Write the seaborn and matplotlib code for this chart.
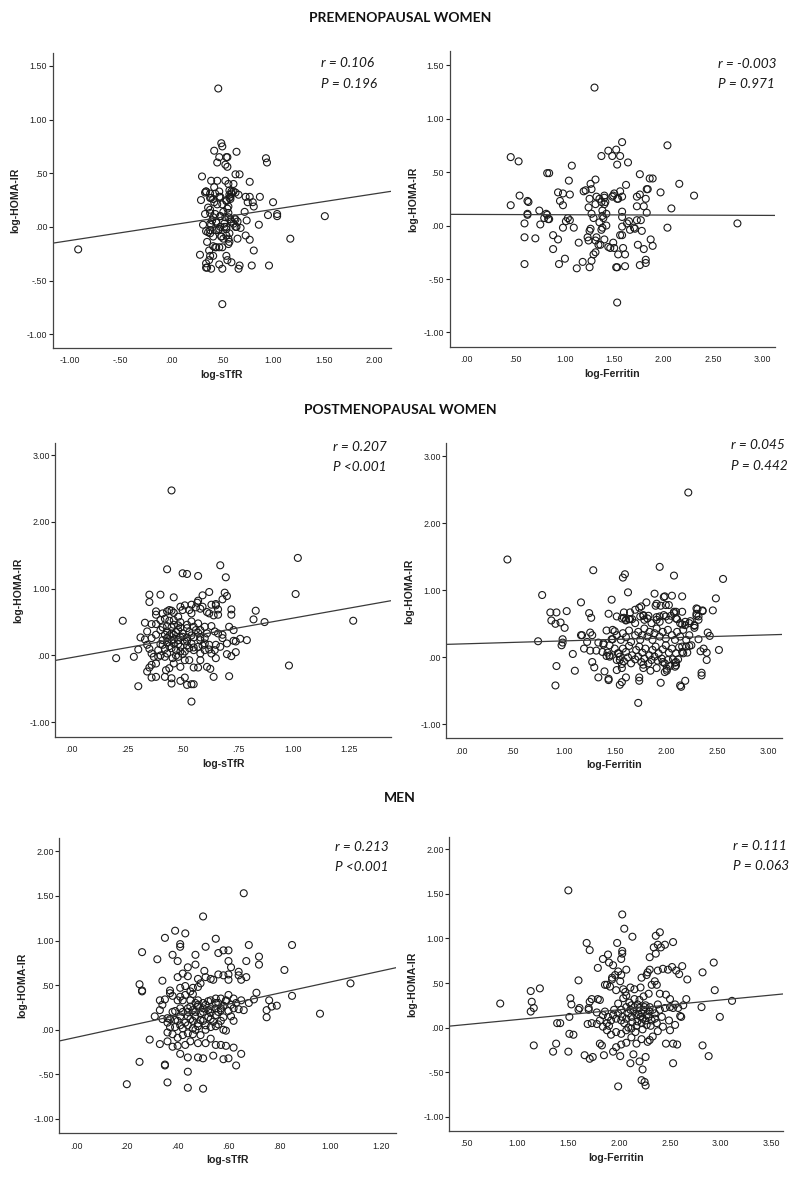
import pandas as pd
import matplotlib
matplotlib.use("Agg")
import matplotlib.pyplot as plt
import matplotlib.ticker as mticker
import seaborn as sns

# ---- data: (x, log-HOMA-IR) pairs per panel ----
pre_stfr = [(-0.92,-0.21),(0.46,1.29),(0.50,-0.72),(1.51,0.10),(1.17,-0.11),(0.96,-0.36),(0.93,0.64),(0.94,0.60),
    (1.00,0.23),(1.04,0.12),(1.04,0.10),(0.95,0.11),(0.87,0.28),(0.86,0.02),(0.81,-0.22),(0.79,-0.36),(0.77,-0.12),
    (0.73,-0.08),(0.74,0.06),(0.72,0.14),(0.81,0.19),(0.80,0.23),(0.75,0.23),(0.77,0.42),(0.73,0.28),(0.77,0.28),
    (0.64,0.70),(0.63,0.49),(0.67,0.49),(0.66,0.30),(0.61,0.33),(0.63,0.32),(0.56,0.40),(0.61,0.40),(0.54,0.65),
    (0.55,0.65),(0.47,0.65),(0.53,0.58),(0.55,0.56),(0.45,0.60),(0.42,0.71),(0.49,0.78),(0.50,0.75),(0.30,0.47),
    (0.39,0.43),(0.45,0.43),(0.53,0.43),(0.42,0.37),(0.33,0.32),(0.34,0.33),(0.38,0.31),(0.29,0.25),(0.38,0.27),
    (0.41,0.26),(0.47,0.33),(0.47,0.28),(0.42,0.23),(0.45,0.21),(0.50,0.21),(0.54,0.24),(0.57,0.27),(0.58,0.28),
    (0.58,0.26),(0.59,0.31),(0.57,0.34),(0.56,0.19),(0.55,0.17),(0.36,0.18),(0.38,0.13),(0.33,0.12),(0.43,0.12),
    (0.48,0.10),(0.53,0.09),(0.56,0.13),(0.58,0.07),(0.63,0.07),(0.65,0.05),(0.61,0.03),(0.63,0.00),(0.68,-0.01),
    (0.31,0.02),(0.38,0.03),(0.40,0.06),(0.44,0.04),(0.48,0.00),(0.47,-0.02),(0.54,-0.02),(0.52,0.03),(0.34,-0.04),
    (0.36,-0.05),(0.38,-0.06),(0.44,-0.03),(0.41,-0.09),(0.49,-0.09),(0.51,-0.11),(0.54,-0.08),(0.56,-0.11),
    (0.65,-0.11),(0.35,-0.14),(0.41,-0.18),(0.44,-0.19),(0.47,-0.19),(0.50,-0.19),(0.56,-0.16),(0.57,-0.14),
    (0.37,-0.22),(0.38,-0.27),(0.41,-0.27),(0.28,-0.26),(0.37,-0.31),(0.34,-0.34),(0.35,-0.38),(0.39,-0.39),
    (0.34,-0.38),(0.47,-0.35),(0.50,-0.39),(0.54,-0.27),(0.55,-0.31),(0.59,-0.33),(0.66,-0.39),(0.67,-0.36),
    (0.34,0.33),(0.39,0.27),(0.43,0.31),(0.48,0.28),(0.54,0.25),(0.57,0.30),(0.59,0.33),(0.38,0.16),(0.41,0.09),
    (0.44,0.05),(0.39,0.02),(0.48,0.10),(0.51,0.14),(0.56,0.09),(0.59,0.05),(0.62,0.08),(0.52,0.00),(0.46,-0.03),
    (0.49,-0.09),(0.54,0.00),(0.57,-0.06),(0.38,-0.03),(0.64,0.00),(0.43,-0.19)]

pre_ferr = [(1.30,1.29),(1.53,-0.72),(2.75,0.02),(2.04,0.75),(2.31,0.28),(2.16,0.39),(2.08,0.16),(2.04,-0.02),
    (1.97,0.31),(1.86,0.44),(1.89,0.44),(1.83,0.34),(1.84,0.34),(1.82,0.25),(1.83,0.12),(1.80,0.18),(1.76,0.48),
    (1.76,0.29),(1.73,0.27),(1.73,0.18),(1.73,0.05),(1.77,0.05),(1.71,-0.03),(1.70,-0.02),(1.78,-0.05),(1.66,-0.04),
    (1.65,0.04),(1.63,0.02),(1.74,-0.18),(1.80,-0.22),(1.87,-0.13),(1.89,-0.19),(1.82,-0.32),(1.82,-0.35),
    (1.76,-0.37),(1.64,0.59),(1.58,0.78),(1.52,0.71),(1.56,0.65),(1.48,0.65),(1.44,0.70),(1.37,0.65),(1.53,0.57),
    (1.62,0.38),(1.56,0.32),(1.50,0.30),(1.49,0.28),(1.58,0.27),(1.53,0.25),(1.54,0.25),(1.48,0.27),(1.40,0.28),
    (1.40,0.26),(1.35,0.25),(1.37,0.22),(1.41,0.22),(1.40,0.20),(1.31,0.43),(1.26,0.39),(1.27,0.34),(1.19,0.32),
    (1.21,0.33),(1.25,0.25),(1.32,0.27),(1.31,0.20),(1.24,0.17),(1.27,0.11),(1.29,0.07),(1.38,0.14),(1.42,0.11),
    (1.38,0.09),(1.58,0.13),(1.58,0.08),(1.39,0.07),(1.35,0.03),(1.42,0.00),(1.37,-0.04),(1.38,-0.02),(1.58,-0.01),
    (1.26,-0.03),(1.25,-0.05),(1.23,-0.11),(1.24,-0.14),(1.32,-0.11),(1.31,-0.14),(1.40,-0.13),(1.34,-0.18),
    (1.36,-0.18),(1.44,-0.20),(1.46,-0.21),(1.50,-0.21),(1.49,-0.16),(1.56,-0.09),(1.58,-0.09),(1.59,-0.21),
    (1.54,-0.27),(1.61,-0.27),(1.31,-0.25),(1.29,-0.27),(1.27,-0.33),(1.25,-0.39),(1.18,-0.34),(1.12,-0.40),
    (1.52,-0.39),(1.53,-0.39),(1.61,-0.38),(1.14,-0.16),(1.09,-0.02),(1.00,-0.31),(0.94,-0.36),(0.98,-0.02),
    (1.01,0.04),(1.05,0.05),(1.03,0.07),(0.93,-0.13),(0.88,-0.09),(0.88,-0.22),(0.98,0.19),(0.95,0.23),(0.93,0.31),
    (0.98,0.30),(1.05,0.29),(1.04,0.42),(1.07,0.56),(0.82,0.49),(0.84,0.49),(0.81,0.11),(0.82,0.10),(0.79,0.07),
    (0.83,0.06),(0.84,0.06),(0.74,0.14),(0.75,0.01),(0.70,-0.12),(0.59,-0.11),(0.59,0.02),(0.62,0.11),(0.62,0.10),
    (0.62,0.23),(0.63,0.22),(0.54,0.28),(0.45,0.19),(0.45,0.64),(0.53,0.60),(0.59,-0.36)]

post_stfr = [(0.45,2.47),(1.27,0.52),(1.02,1.46),(0.67,1.35),(0.43,1.29),(0.50,1.23),(0.52,1.22),(0.57,1.19),
    (0.695,1.17),(1.01,0.92),(0.35,0.91),(0.40,0.91),(0.35,0.80),(0.46,0.87),(0.62,0.95),(0.69,0.94),(0.70,0.89),
    (0.59,0.90),(0.57,0.82),(0.566,0.79),(0.54,0.76),(0.68,0.84),(0.63,0.76),(0.65,0.77),(0.66,0.69),(0.72,0.69),
    (0.72,0.61),(0.83,0.67),(0.82,0.54),(0.87,0.50),(0.23,0.52),(0.38,0.66),(0.38,0.61),(0.41,0.63),(0.43,0.66),
    (0.44,0.68),(0.45,0.67),(0.46,0.64),(0.49,0.73),(0.50,0.68),(0.51,0.75),(0.53,0.68),(0.54,0.63),(0.56,0.72),
    (0.58,0.70),(0.59,0.73),(0.61,0.65),(0.62,0.63),(0.64,0.60),(0.66,0.61),(0.65,0.75),(0.48,0.58),(0.49,0.50),
    (0.46,0.53),(0.44,0.52),(0.42,0.55),(0.40,0.53),(0.38,0.47),(0.36,0.47),(0.33,0.49),(0.34,0.36),(0.31,0.27),
    (0.33,0.24),(0.34,0.16),(0.30,0.09),(0.28,-0.02),(0.20,-0.04),(0.35,0.10),(0.36,0.03),(0.37,-0.02),(0.39,0.08),
    (0.40,0.17),(0.41,0.23),(0.42,0.31),(0.43,0.36),(0.45,0.42),(0.46,0.31),(0.48,0.38),(0.49,0.27),(0.50,0.33),
    (0.52,0.41),(0.52,0.46),(0.54,0.51),(0.55,0.43),(0.57,0.48),(0.58,0.38),(0.60,0.43),(0.61,0.33),(0.63,0.44),
    (0.645,0.36),(0.66,0.33),(0.68,0.31),(0.70,0.18),(0.71,0.43),(0.73,0.38),(0.73,0.22),(0.74,0.21),(0.76,0.25),
    (0.79,0.23),(0.74,0.05),(0.72,-0.01),(0.70,0.02),(0.65,-0.04),(0.62,0.09),(0.62,0.16),(0.60,0.08),(0.58,0.03),
    (0.57,0.13),(0.55,0.08),(0.54,0.18),(0.53,0.11),(0.51,0.06),(0.49,0.13),(0.48,0.23),(0.46,0.18),(0.45,0.11),
    (0.43,0.03),(0.42,-0.02),(0.41,0.16),(0.39,-0.02),(0.38,-0.12),(0.36,-0.14),(0.35,-0.18),(0.34,-0.24),
    (0.36,-0.33),(0.38,-0.32),(0.42,-0.32),(0.425,-0.22),(0.44,-0.19),(0.45,-0.42),(0.46,-0.12),(0.49,-0.17),
    (0.49,-0.38),(0.51,-0.33),(0.52,-0.44),(0.54,-0.43),(0.55,-0.43),(0.55,-0.18),(0.57,-0.18),(0.58,-0.07),
    (0.61,-0.17),(0.625,-0.20),(0.64,-0.32),(0.71,-0.31),(0.45,-0.34),(0.30,-0.46),(0.54,-0.69),(0.98,-0.15),
    (0.51,-0.07),(0.53,-0.07),(0.48,-0.02),(0.455,-0.04),(0.58,0.23),(0.60,0.26),(0.65,0.16),(0.67,0.13),
    (0.68,0.26),(0.43,0.26),(0.45,0.23),(0.47,0.08),(0.49,0.06),(0.51,0.21),(0.52,0.27),(0.54,0.30),(0.55,0.27),
    (0.57,0.34),(0.58,0.27),(0.60,0.18),(0.63,0.03),(0.645,0.08),(0.36,0.26),(0.38,0.31),(0.40,0.38),(0.41,0.42),
    (0.43,0.44),(0.45,0.33),(0.46,0.46),(0.49,0.42),
    (0.44,0.14),(0.46,0.24),(0.47,0.35),(0.48,0.17),(0.50,0.02),(0.50,0.28),(0.52,0.15),(0.53,0.35),(0.44,0.30),
    (0.42,0.10),(0.40,0.00),(0.48,0.45),(0.52,0.22),(0.55,0.12),(0.56,0.38),(0.47,0.00),(0.43,0.20),(0.59,0.15)]

post_ferr = [(2.22,2.46),(0.45,1.46),(0.79,0.93),(0.75,0.24),(1.29,1.30),(1.17,0.82),(1.58,1.19),(1.60,1.24),
    (1.63,0.97),(1.47,0.86),(1.94,1.35),(2.08,1.22),(2.56,1.17),(2.49,0.88),(2.46,0.70),(2.16,0.91),(2.06,0.92),
    (1.98,0.90),(1.99,0.91),(1.89,0.95),(2.52,0.11),(2.40,-0.04),(2.35,-0.23),(2.35,-0.27),(2.19,-0.35),
    (2.14,-0.42),(2.15,-0.44),(1.95,-0.38),(1.73,-0.68),(1.74,-0.30),(1.74,-0.35),(1.61,-0.30),(1.57,-0.37),
    (1.55,-0.41),(1.44,-0.32),(1.44,-0.34),(1.34,-0.30),(1.40,-0.21),(1.52,-0.19),(1.30,-0.15),(1.28,-0.07),
    (1.11,-0.20),(1.09,0.05),(0.93,-0.13),(0.92,-0.42),(0.99,0.27),(0.99,0.22),(0.98,0.18),(1.01,0.44),(0.97,0.52),
    (0.92,0.50),(0.88,0.55),(0.87,0.67),(0.93,0.67),(1.03,0.69),(1.18,0.33),(1.20,0.13),(1.25,0.66),(1.27,0.59),
    (1.26,0.37),(1.28,0.33),(1.23,0.23),(1.26,0.10),(1.32,0.10),(1.34,0.22),(1.39,0.19),(1.38,0.08),(1.44,0.65),
    (1.42,0.40),(1.48,0.41),(1.50,0.39),(1.47,0.27),(1.45,0.03),(1.45,0.01),(1.43,0.07),(1.42,0.02),(1.53,0.06),
    (1.55,-0.04),(1.57,-0.10),(1.57,-0.16),(1.59,0.67),(1.59,0.59),(1.61,0.56),(1.64,0.57),(1.67,0.57),(1.65,0.67),
    (1.70,0.71),(1.74,0.74),(1.76,0.76),(1.78,0.62),(1.79,0.56),(1.81,0.82),(1.83,0.62),(1.91,0.80),(1.90,0.77),
    (1.95,0.77),(2.00,0.78),(2.03,0.78),(1.91,0.60),(1.94,0.53),(2.00,0.61),(2.08,0.68),(2.10,0.68),(2.16,0.68),
    (2.05,0.62),(2.11,0.57),(2.16,0.49),(2.19,0.48),(2.28,0.47),(2.28,0.44),(2.24,0.54),(2.31,0.72),(2.30,0.65),
    (2.30,0.62),(2.36,0.69),(2.32,0.56),(2.41,0.37),(2.43,0.32),(2.32,0.27),(2.37,0.13),(2.34,0.09),(2.40,0.07),
    (2.23,0.17),(2.21,0.07),(2.17,0.06),(2.16,0.16),(2.12,-0.03),(2.09,-0.08),(2.10,-0.12),(2.01,-0.17),
    (2.01,-0.20),(1.99,-0.22),(1.91,-0.16),(1.85,-0.20),(1.78,-0.16),(1.78,-0.11),(1.97,-0.07),(2.04,-0.13),
    (2.09,-0.14),(1.39,0.21),(1.17,0.33),
    (1.48,0.27),(1.52,0.33),(1.56,0.26),(1.58,0.36),(1.61,0.30),(1.64,0.40),(1.66,0.23),(1.70,0.33),(1.73,0.38),
    (1.75,0.26),(1.77,0.33),(1.79,0.43),(1.82,0.31),(1.84,0.38),(1.87,0.26),(1.89,0.36),(1.91,0.43),(1.94,0.31),
    (1.97,0.38),(2.00,0.28),(2.02,0.41),(2.06,0.33),(2.09,0.26),(2.11,0.38),(2.14,0.31),(2.17,0.41),(2.20,0.26),
    (2.23,0.33),(1.45,0.18),(1.50,0.13),(1.54,0.06),(1.58,0.13),(1.61,0.08),(1.64,0.17),(1.67,0.03),(1.71,0.11),
    (1.74,0.16),(1.77,0.07),(1.80,0.13),(1.84,0.03),(1.87,0.11),(1.90,0.16),(1.93,0.06),(1.97,0.12),(2.00,0.18),
    (2.03,0.07),(2.06,0.13),(2.10,0.06),(2.13,0.15),(2.16,0.08),(2.20,0.16),(2.25,0.18),(1.52,-0.04),(1.55,0.01),
    (1.59,-0.06),(1.63,0.00),(1.66,-0.09),(1.70,-0.03),(1.73,0.01),(1.76,-0.07),(1.79,-0.02),(1.83,-0.09),
    (1.86,-0.04),(1.89,0.01),(1.92,-0.05),(1.96,-0.02),(1.99,-0.09),(2.02,-0.04),(2.07,-0.03),(2.10,-0.07),
    (1.52,0.61),(1.57,0.58),(1.61,0.55),(1.65,0.57),(1.70,0.51),(1.75,0.61),(1.78,0.63),(1.82,0.58),(1.86,0.51),
    (1.91,0.56),(1.94,0.61),(1.98,0.63),(2.03,0.56),(2.08,0.66),(2.10,0.58),(2.14,0.51),(2.19,0.53),(2.23,0.51),
    (2.28,0.48),(2.32,0.61),(2.36,0.70),(2.30,0.73)]

men_stfr = [(0.66,1.53),(1.08,0.52),(0.50,1.27),(0.35,1.03),(0.39,1.11),(0.43,1.08),(0.55,1.02),(0.41,0.96),
    (0.41,0.93),(0.51,0.93),(0.26,0.87),(0.38,0.84),(0.32,0.79),(0.40,0.77),(0.47,0.84),(0.56,0.86),(0.58,0.89),
    (0.60,0.89),(0.68,0.95),(0.85,0.95),(0.72,0.82),(0.72,0.73),(0.67,0.77),(0.82,0.67),(0.47,0.73),(0.60,0.77),
    (0.61,0.70),(0.505,0.66),(0.44,0.70),(0.42,0.63),(0.44,0.60),(0.40,0.59),(0.34,0.55),(0.25,0.51),(0.26,0.44),
    (0.26,0.43),(0.48,0.57),(0.51,0.59),(0.53,0.57),(0.54,0.56),(0.56,0.62),(0.58,0.61),(0.60,0.62),(0.60,0.56),
    (0.64,0.65),(0.64,0.61),(0.67,0.59),(0.65,0.56),(0.49,0.52),(0.48,0.48),(0.46,0.47),(0.43,0.49),(0.41,0.47),
    (0.37,0.44),(0.37,0.41),(0.38,0.38),(0.41,0.37),(0.43,0.39),(0.45,0.43),(0.46,0.40),(0.48,0.33),(0.45,0.33),
    (0.42,0.33),(0.40,0.33),(0.35,0.34),(0.33,0.33),(0.34,0.28),(0.33,0.22),(0.31,0.15),(0.34,0.12),(0.36,0.13),
    (0.37,0.12),(0.39,0.21),(0.41,0.24),(0.44,0.20),(0.46,0.22),(0.48,0.26),(0.50,0.24),(0.51,0.28),(0.53,0.33),
    (0.55,0.35),(0.56,0.30),(0.57,0.24),(0.59,0.33),(0.60,0.39),(0.62,0.35),(0.65,0.33),(0.68,0.30),(0.70,0.34),
    (0.71,0.415),(0.76,0.33),(0.77,0.26),(0.79,0.27),(0.85,0.38),(0.75,0.22),(0.75,0.14),(0.66,0.22),(0.64,0.23),
    (0.62,0.24),(0.61,0.15),(0.58,0.14),(0.55,0.165),(0.53,0.19),(0.52,0.14),(0.49,0.11),(0.48,0.07),(0.46,0.10),
    (0.44,0.05),(0.42,0.015),(0.41,0.05),(0.39,0.03),(0.37,0.03),(0.36,-0.03),(0.38,-0.05),(0.40,-0.09),
    (0.42,-0.06),(0.44,-0.04),(0.46,0.015),(0.47,0.00),(0.49,-0.06),(0.51,0.00),(0.53,0.03),(0.55,0.04),(0.58,0.00),
    (0.59,-0.01),(0.29,-0.11),(0.33,-0.16),(0.36,-0.13),(0.38,-0.19),(0.40,-0.18),(0.43,-0.17),(0.45,-0.13),
    (0.48,-0.15),(0.51,-0.15),(0.53,-0.10),(0.55,-0.17),(0.57,-0.17),(0.59,-0.18),(0.62,-0.20),(0.65,-0.27),
    (0.41,-0.27),(0.44,-0.31),(0.48,-0.31),(0.50,-0.32),(0.54,-0.29),(0.58,-0.33),(0.60,-0.32),(0.63,-0.40),
    (0.25,-0.36),(0.35,-0.39),(0.35,-0.40),(0.44,-0.47),(0.20,-0.61),(0.36,-0.59),(0.44,-0.65),(0.50,-0.66),
    (0.96,0.18),(0.53,0.23),(0.47,0.15),(0.44,0.15),(0.41,0.15),(0.39,0.11),(0.50,0.20),(0.55,0.24),(0.57,0.22),
    (0.47,0.20),(0.48,0.28),
    (0.42,0.20),(0.45,0.26),(0.47,0.30),(0.49,0.18),(0.50,0.10),(0.52,0.22),(0.53,0.12),(0.55,0.30),(0.56,0.20),
    (0.57,0.10),(0.58,0.27),(0.60,0.21),(0.61,0.28),(0.62,0.10),(0.63,0.30),(0.40,0.10),(0.43,0.08),(0.45,0.12),
    (0.46,-0.05),(0.48,0.04),(0.50,0.30),(0.51,0.05),(0.54,0.09),(0.56,0.06),(0.59,0.32),(0.38,0.20),(0.36,0.08),
    (0.44,0.24),(0.52,0.32),(0.57,0.35)]

men_ferr = [(1.50,1.54),(0.83,0.27),(1.13,0.41),(1.14,0.29),(1.13,0.18),(1.16,0.22),(1.22,0.44),(1.16,-0.20),
    (1.38,-0.18),(1.35,-0.27),(1.39,0.05),(2.03,1.27),(2.05,1.11),(2.13,1.02),(1.68,0.95),(1.71,0.87),(1.98,0.95),
    (2.03,0.86),(2.03,0.83),(2.02,0.77),(1.84,0.77),(1.79,0.67),(1.90,0.73),(1.94,0.70),(1.99,0.63),(2.07,0.65),
    (1.89,0.82),(1.60,0.53),(1.52,0.33),(1.53,0.26),(1.61,0.22),(1.71,0.29),(1.73,0.32),(1.70,0.20),(1.79,0.32),
    (1.81,0.31),(1.86,0.48),(1.88,0.48),(1.91,0.46),(1.93,0.56),(1.93,0.54),(1.96,0.59),(2.01,0.52),(2.02,0.59),
    (1.97,0.42),(2.04,0.43),(2.04,0.33),(2.07,0.36),(2.11,0.45),(2.15,0.43),(2.21,0.45),(2.22,0.56),(2.27,0.59),
    (2.28,0.62),(2.30,0.65),(2.30,0.79),(2.36,0.83),(2.38,0.93),(2.40,1.07),(2.36,1.03),(2.41,0.90),(2.45,0.93),
    (2.53,0.96),(2.34,0.90),(2.38,0.64),(2.43,0.66),(2.48,0.65),(2.52,0.68),(2.56,0.64),(2.59,0.60),(2.62,0.69),
    (2.67,0.54),(2.82,0.62),(2.93,0.73),(2.94,0.42),(3.11,0.30),(2.99,0.12),(2.81,0.23),(2.66,0.32),(2.63,0.25),
    (2.58,0.22),(2.55,0.26),(2.50,0.32),(2.46,0.37),(2.40,0.38),(2.37,0.48),(2.35,0.52),(2.32,0.48),(2.29,0.38),
    (2.24,0.35),(2.20,0.31),(2.15,0.32),(2.12,0.25),(2.07,0.23),(2.02,0.20),(1.99,0.16),(1.94,0.14),(1.89,0.12),
    (1.84,0.14),(1.81,0.08),(1.78,0.04),(1.73,0.05),(1.69,0.04),(1.51,0.12),(1.42,0.05),(1.51,-0.07),(1.55,-0.08),
    (1.50,-0.27),(1.66,-0.31),(1.71,-0.35),(1.74,-0.33),(1.85,-0.31),(1.94,-0.27),(2.01,-0.32),(2.11,-0.40),
    (2.20,-0.38),(2.23,-0.47),(2.22,-0.59),(2.25,-0.61),(2.26,-0.65),(1.99,-0.66),(2.53,-0.40),(2.26,-0.33),
    (2.14,-0.30),(2.30,-0.14),(2.38,-0.04),(2.43,0.01),(2.50,-0.03),(2.55,0.03),(2.49,0.08),(2.46,-0.18),
    (2.53,-0.18),(2.57,-0.19),(2.82,-0.20),(2.88,-0.32),(1.81,-0.18),(1.83,-0.20),(1.97,-0.22),(2.02,-0.19),
    (2.07,-0.17),(2.12,-0.11),(2.17,-0.18),(2.22,-0.13),(2.28,-0.16),(2.33,-0.10),(2.37,0.05),(2.32,0.08),
    (2.27,0.03),(2.22,0.05),(2.17,0.02),(2.12,-0.01),(2.07,-0.03),(2.02,-0.07),(1.97,-0.05),(1.92,-0.08),
    (1.88,-0.03),(1.84,0.01),(1.88,0.05),(1.92,0.08),(1.97,0.10),(2.02,0.08),(2.07,0.10),(2.12,0.12),(2.17,0.14),
    (2.22,0.16),(2.27,0.14),(2.30,0.18),(2.35,0.16),(2.40,0.20),(2.45,0.22),(2.50,0.23),(2.53,0.22),(2.11,0.20),
    (2.15,0.23),(2.20,0.22),(2.25,0.23),(2.30,0.23),(2.33,0.20),(2.18,0.07),(2.23,0.10),(2.09,0.16),(2.60,0.13),
    (2.61,0.12),(1.70,0.22),(1.60,0.20),
    (2.10,0.28),(2.14,0.18),(2.18,0.26),(2.21,0.12),(2.24,0.20),(2.26,0.08),(2.29,0.12),(2.31,0.02),(2.35,0.10),
    (2.38,0.26),(2.42,0.12),(2.05,0.05),(2.09,0.00),(2.13,0.06),(2.16,-0.05),(2.19,0.15),(2.23,-0.02),(2.26,0.25),
    (1.95,0.20),(1.99,0.27),(2.03,0.12),(1.90,0.02),(1.86,0.18),(1.78,0.17),(2.06,0.40)]

# fit lines (intercept, slope)
fit_b = [0.018, 0.104, -0.03, 0.20, -0.085, -0.02]
fit_m = [0.145, -0.003, 0.59, 0.045, 0.62, 0.11]
r_txt = ["r = 0.106", "r = -0.003", "r = 0.207", "r = 0.045", "r = 0.213", "r = 0.111"]
p_txt = ["P = 0.196", "P = 0.971", "P <0.001", "P = 0.442", "P <0.001", "P = 0.063"]
titles = ["PREMENOPAUSAL WOMEN", "POSTMENOPAUSAL WOMEN", "MEN"]

sns.set_style("white")
plt.rcParams["font.family"] = ["Liberation Sans", "DejaVu Sans"]

fig = plt.figure(figsize=(8, 11.8), dpi=100)

panels = [
    (pre_stfr, "log-sTfR", [0.066, 0.705, 0.4225, 0.250], (-1.17, 2.16), (-1.13, 1.62),
     [-1, -0.5, 0, 0.5, 1, 1.5, 2], [-1, -0.5, 0, 0.5, 1, 1.5], (0.793, 0.966, 0.895)),
    (pre_ferr, "log-Ferritin", [0.562, 0.706, 0.4066, 0.2506], (-0.17, 3.13), (-1.135, 1.63),
     [0, 0.5, 1, 1.5, 2, 2.5, 3], [-1, -0.5, 0, 0.5, 1, 1.5], (0.826, 0.958, 0.888)),
    (post_stfr, "log-sTfR", [0.069, 0.3757, 0.4196, 0.2486], (-0.075, 1.44), (-1.215, 3.175),
     [0, 0.25, 0.5, 0.75, 1, 1.25], [-1, 0, 1, 2, 3], (0.827, 0.988, 0.918)),
    (post_ferr, "log-Ferritin", [0.558, 0.3743, 0.4195, 0.250], (-0.147, 3.137), (-1.209, 3.194),
     [0, 0.5, 1, 1.5, 2, 2.5, 3], [-1, 0, 1, 2, 3], (0.847, 0.994, 0.924)),
    (men_stfr, "log-sTfR", [0.074, 0.0396, 0.421, 0.250], (-0.066, 1.259), (-1.16, 2.146),
     [0, 0.2, 0.4, 0.6, 0.8, 1.0, 1.2], [-1, -0.5, 0, 0.5, 1, 1.5, 2], (0.819, 0.972, 0.902)),
    (men_ferr, "log-Ferritin", [0.5616, 0.0415, 0.4175, 0.2494], (0.329, 3.614), (-1.161, 2.142),
     [0.5, 1, 1.5, 2, 2.5, 3, 3.5], [-1, -0.5, 0, 0.5, 1, 1.5, 2], (0.849, 0.969, 0.902)),
]


def spss_fmt(v, pos):
    s = f"{v:.2f}"
    if abs(v) < 1:
        s = s.replace("0.", ".", 1)
    return s


for i, (pts, xlab, pos, xlim, ylim, xt, yt, tpos) in enumerate(panels):
    ax = fig.add_axes(pos)
    df = pd.DataFrame(pts, columns=["x", "y"])
    sns.scatterplot(data=df, x="x", y="y", ax=ax, marker="o", s=25,
                    facecolor="none", edgecolor="#1a1a1a", linewidth=0.8)
    for c in ax.collections:
        c.set_facecolor("none")
    ax.axline((0, fit_b[i]), slope=fit_m[i], color="#3a3a3a", lw=0.9)
    ax.set_xlim(*xlim)
    ax.set_ylim(*ylim)
    ax.set_xticks(xt)
    ax.set_yticks(yt)
    ax.xaxis.set_major_formatter(mticker.FuncFormatter(spss_fmt))
    ax.yaxis.set_major_formatter(mticker.FuncFormatter(spss_fmt))
    ax.tick_params(axis="y", length=3, width=0.8, pad=1, labelsize=6.4, colors="#222222", left=True)
    ax.tick_params(axis="x", length=0, pad=6, labelsize=6.4, colors="#222222")
    for side in ["top", "right"]:
        ax.spines[side].set_visible(False)
    for side in ["left", "bottom"]:
        ax.spines[side].set_color("#444444")
        ax.spines[side].set_linewidth(0.9)
    ax.set_xlabel(xlab, fontsize=7.6, fontweight="bold", color="#222222")
    ax.set_ylabel("log-HOMA-IR", fontsize=7.6, fontweight="bold", color="#222222")
    ax.xaxis.set_label_coords(0.5, -0.075)
    ax.yaxis.set_label_coords(-0.095, 0.5)
    ax.text(tpos[0], tpos[1], r_txt[i], transform=ax.transAxes, fontsize=9.8,
            style="italic", family=["Lato", "DejaVu Sans"], va="center", ha="left", color="#1a1a1a")
    ax.text(tpos[0], tpos[2], p_txt[i], transform=ax.transAxes, fontsize=9.8,
            style="italic", family=["Lato", "DejaVu Sans"], va="center", ha="left", color="#1a1a1a")

for t, y in zip(titles, [0.985, 0.6525, 0.3237]):
    fig.text(0.5, y, t, ha="center", va="center", fontsize=10, fontweight="bold",
             family=["Lato", "DejaVu Sans"], color="#111111")

fig.savefig("out.png", dpi=100, facecolor="white")
